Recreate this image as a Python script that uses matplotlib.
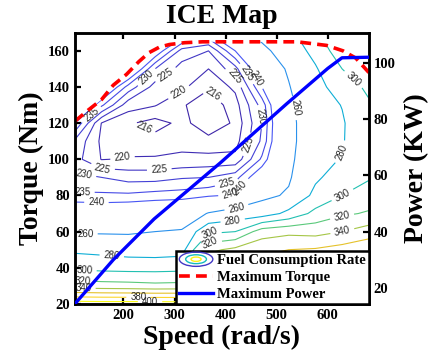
import numpy as np
import matplotlib.pyplot as plt
from matplotlib.colors import LinearSegmentedColormap, Normalize
from matplotlib.patches import Polygon, Ellipse
from matplotlib.lines import Line2D
from matplotlib.legend_handler import HandlerBase

# grid of the map: speed (rad/s) columns, torque (Nm) rows
speed = [104.7, 157.1, 209.4, 261.8, 314.2, 366.5, 418.9, 471.2, 523.6, 576.0, 628.3, 680.7]
torque = [20, 30, 40, 50, 60, 70, 80, 90, 100, 110, 120, 130, 140, 150, 160, 170]

# fuel consumption rate (g/kWh), one list per speed column, torque 20 -> 170
fc_105 = [412, 330, 296, 276, 258, 247, 236, 231, 227, 229, 240, 252, 262, 272, 282, 292]
fc_157 = [411, 328, 294, 274, 258, 246, 236, 230, 219.8, 219, 219.8, 236, 250, 262, 272, 282]
fc_209 = [411, 327, 293, 271, 258, 247, 236, 228, 220.5, 217, 216.5, 222, 233, 250, 262, 272]
fc_262 = [411, 325, 293, 270, 260, 248, 237, 228, 220.5, 217.5, 214.5, 220.3, 223, 230, 245, 260]
fc_314 = [410, 326, 294, 272, 261.5, 249, 237.5, 229.5, 221, 218.5, 217, 216.5, 221, 223, 228, 245]
fc_366 = [420, 385, 360, 335, 296, 261, 239, 230, 221.5, 217, 214, 213.5, 216.5, 220, 225, 240]
fc_419 = [415, 392, 372, 345, 300, 268, 241, 233, 221.5, 218, 216.5, 218, 221, 228, 240, 255]
fc_471 = [410, 390, 370, 355, 330, 270, 256, 246, 236, 231, 230, 232, 240, 248, 256, 265]
fc_524 = [410, 395, 380, 360, 335, 285, 262, 258, 256, 255, 255, 256, 259, 262, 268, 275]
fc_576 = [410, 395, 385, 362, 333, 306, 285, 277, 274, 272, 272, 273, 275, 278, 286, 296]
fc_628 = [410, 398, 388, 368, 340, 317, 300, 289, 281, 279, 278.5, 280.5, 287, 300, 312, 322]
fc_681 = [410, 400, 390, 375, 350, 322, 310, 298, 292, 290, 292, 297, 305, 318, 328, 338]

levels = [216, 220, 225, 230, 235, 240, 260, 280, 300, 320, 340, 360, 380, 400]

# maximum torque curve
tq_speed = [104.7, 130, 157, 180, 206, 230, 250, 270, 290, 320, 355, 450, 540, 598, 630, 655, 680.7]
tq_max = [121, 127, 133, 141, 147, 154, 159, 162, 163.5, 164.5, 165, 165, 165, 163, 160, 156, 148]

# maximum power curve (kW)
pw_speed = [104.7, 180, 260, 390, 520, 600, 628, 680.7]
pw_max = [14.3, 30, 44.5, 64.5, 85.5, 98, 101.8, 102]

# where the contour labels sit (speed, torque)
label_xy = [(251, 143.8), (286, 145.4), (313.7, 134.4), (241, 117.8), (372.6, 135.5),
            (135, 125.5), (198, 101.2), (123.5, 92.4), (158.8, 94), (270.6, 92.9),
            (119.6, 82.5), (147, 75.8), (125.5, 58.1), (176.5, 44.3), (123.5, 37.7),
            (119.6, 32.2), (121.6, 28.3), (229.4, 23.6), (252, 21.2),
            (402, 87.4), (408, 83), (414, 81.3), (421.6, 146.5), (447, 148.2), (470.6, 146.5),
            (466.7, 123.3), (437.3, 109), (551, 128.8), (617.7, 105), (649, 143.8),
            (421.6, 73), (413.8, 66.4), (368.6, 59.2), (368.6, 55.4),
            (629, 80.2), (629, 67.5), (629, 59.8)]

parula = LinearSegmentedColormap.from_list("parula", [
    (0.2422, 0.1504, 0.6603), (0.2810, 0.3228, 0.9579), (0.1540, 0.5902, 0.9218),
    (0.0297, 0.7082, 0.8163), (0.1938, 0.7758, 0.6251), (0.5044, 0.7993, 0.3480),
    (0.8634, 0.7406, 0.1596), (0.9892, 0.8136, 0.1885), (0.9769, 0.9839, 0.0805)])

serif = "Liberation Serif"


class ContourIcon(HandlerBase):
    def create_artists(self, legend, orig, xd, yd, w, h, fontsize, trans):
        cx, cy = xd + w / 2, yd + h / 2
        out = []
        for f, c in [(1.0, parula(0.05)), (0.62, parula(0.42)), (0.3, parula(0.97))]:
            out.append(Ellipse((cx, cy), w * f, h * 1.4 * f, fill=False,
                               edgecolor=c, lw=1.0, transform=trans))
        return out


Z = np.array([fc_105, fc_157, fc_209, fc_262, fc_314, fc_366, fc_419, fc_471,
              fc_524, fc_576, fc_628, fc_681]).T

fig = plt.figure(figsize=(4.35, 3.64), dpi=100)
ax = fig.add_axes([0.172, 0.165, 0.676, 0.745])

cs = ax.contour(speed, torque, Z, levels=levels, cmap=parula,
                norm=Normalize(216, 400), linewidths=0.8)
ax.clabel(cs, fmt="%d", fontsize=7, colors="#262626", inline=True,
          inline_spacing=3, manual=label_xy)
for t in cs.labelTexts:
    t.set_fontfamily("Liberation Sans")

# nothing is drawn above the max torque curve
clip = Polygon([(speed[0], 0)] + list(zip(tq_speed, tq_max)) + [(speed[-1], 0)],
               closed=True, transform=ax.transData)
cs.set_clip_path(clip)

red, = ax.plot(tq_speed, tq_max, color="red", lw=2.6, ls=(0, (3.0, 1.7)), zorder=5)

ax.set_xlim(104.7, 680.7)
ax.set_ylim(20, 170)
ax.set_xticks([200, 300, 400, 500, 600])
ax.set_yticks([20, 40, 60, 80, 100, 120, 140, 160])
ax.tick_params(direction="in", length=4, width=1.6, top=True, right=False,
               labelsize=10.5)

ax2 = ax.twinx()
blue, = ax2.plot(pw_speed, pw_max, color="blue", lw=2.4, zorder=6)
ax2.set_ylim(14.3, 110.7)
ax2.set_yticks([20, 40, 60, 80, 100])
ax2.tick_params(direction="in", length=4, width=1.6, labelsize=10.5)

for a in (ax, ax2):
    for sp in a.spines.values():
        sp.set_linewidth(1.8)
    for lab in a.get_xticklabels() + a.get_yticklabels():
        lab.set_fontfamily(serif)
        lab.set_fontweight("bold")

ax.set_title("ICE Map", fontsize=20, fontweight="bold", family=serif, pad=7)
ax.set_xlabel("Speed (rad/s)", fontsize=20, fontweight="bold", family=serif, labelpad=2)
ax.set_ylabel("Torque (Nm)", fontsize=20, fontweight="bold", family=serif, labelpad=3)
ax2.set_ylabel("Power (KW)", fontsize=20, fontweight="bold", family=serif, labelpad=6)

icon = Line2D([], [])
leg = ax2.legend([icon, red, blue],
                 ["Fuel Consumption Rate", "Maximum Torque", "Maximum Power"],
                 handler_map={icon: ContourIcon()}, loc="lower right",
                 borderaxespad=0, fancybox=False, framealpha=1, edgecolor="black",
                 prop={"family": serif, "weight": "bold", "size": 10.5},
                 handlelength=2.3, handletextpad=0.3, borderpad=0.2, labelspacing=0.25)
leg.get_frame().set_linewidth(1.8)

fig.savefig("out.png", dpi=100)
